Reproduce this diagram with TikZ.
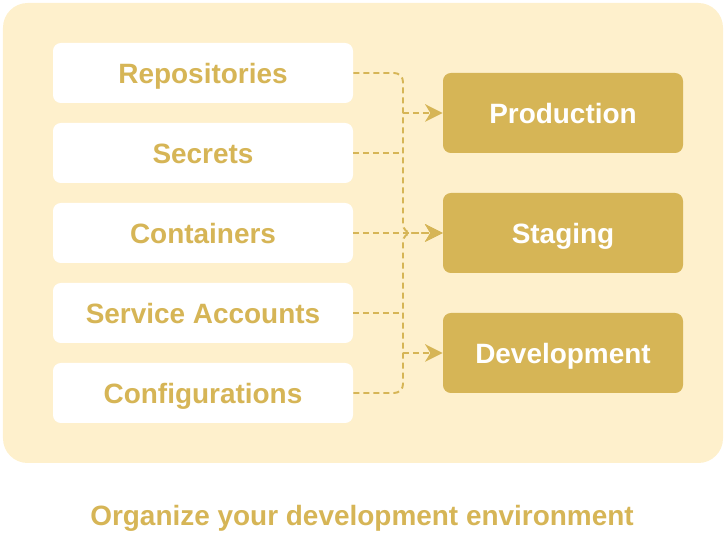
\documentclass[tikz,border=0pt]{standalone}
\usepackage{fontspec}
\setmainfont{Liberation Sans}
\usetikzlibrary{arrows.meta}
\definecolor{gold}{HTML}{D6B556}
\definecolor{cream}{HTML}{FEF0CC}
\newcommand{\lf}{\bfseries\fontsize{15.9}{18}\selectfont}

\tikzset{
    src/.style={fill=white, rounded corners=4.5pt, minimum width=6cm, minimum height=1.2cm, text=gold, font=\lf, text height=11.4pt, text depth=0pt},
    env/.style={fill=gold, rounded corners=4.5pt, minimum width=4.8cm, minimum height=1.6cm, text=white, font=\lf, text height=11.4pt, text depth=0pt},
    link/.style={gold, line width=1.1pt, dash pattern=on 3.4pt off 2.3pt, rounded corners=5pt},
    tip/.style={-{Stealth[length=10pt, width=10pt, inset=3pt]}}
}

\begin{document}
\begin{tikzpicture}
    \useasboundingbox (0,0) rectangle (14.48,10.88);

    % background
    \fill [cream, rounded corners=14pt] (0.06,1.62) rectangle (14.46,10.82);

    % resources
    \node [src] (repo) at (4.06,9.42) {Repositories};
    \node [src] (sec)  at (4.06,7.82) {Secrets};
    \node [src] (cont) at (4.06,6.22) {Containers};
    \node [src] (serv) at (4.06,4.62) {Service Accounts};
    \node [src] (conf) at (4.06,3.02) {Configurations};

    % environments
    \node [env] (prod) at (11.26,8.62) {Production};
    \node [env] (stag) at (11.26,6.22) {Staging};
    \node [env] (dev)  at (11.26,3.82) {Development};

    \coordinate (bus) at (8.06,6.22);

    % lines
    \draw [link, tip] (repo.east) -| (bus) -- (stag.west);
    \draw [link, tip] (conf.east) -| (bus) -- (stag.west);
    \draw [link, tip] (cont.east) -- (stag.west);
    \draw [link] (sec.east) -- (sec.east -| bus);
    \draw [link] (serv.east) -- (serv.east -| bus);
    \draw [link, tip] (prod.west -| bus) -- (prod.west);
    \draw [link, tip] (dev.west -| bus) -- (dev.west);

    % caption
    \node [text=gold, font=\lf, text height=11.4pt, text depth=0pt] (cap) at (7.24,0.58) {Organize your development environment};
\end{tikzpicture}
\end{document}
